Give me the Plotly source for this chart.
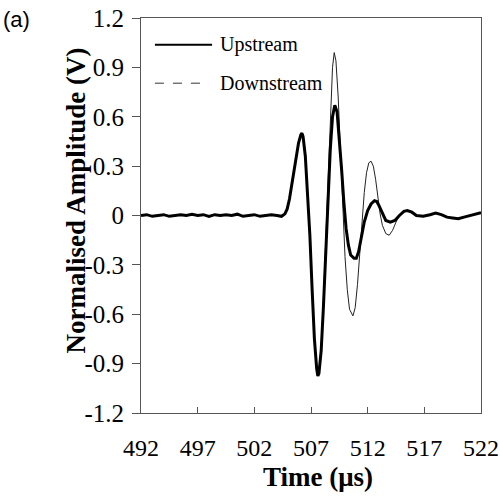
import plotly.graph_objects as go

# Time (µs) and normalised amplitudes
t_up = [492.0, 492.5, 493.0, 493.5, 494.0, 494.5, 495.0, 495.5, 496.0, 496.5,
        497.0, 497.5, 498.0, 498.5, 499.0, 499.5, 500.0, 500.5, 501.0, 501.5,
        502.0, 502.5, 503.0, 503.5, 504.0, 504.4, 504.7, 504.9, 505.1, 505.3,
        505.5, 505.7, 505.9, 506.1, 506.2, 506.3, 506.5, 506.7, 506.9, 507.1,
        507.3, 507.5, 507.6, 507.7, 507.9, 508.1, 508.3, 508.5, 508.7, 508.9,
        509.1, 509.3, 509.5, 509.7, 509.9, 510.1, 510.3, 510.5, 510.8, 511.0,
        511.2, 511.4, 511.7, 512.0, 512.3, 512.6, 512.8, 513.0, 513.3, 513.6,
        514.0, 514.4, 514.8, 515.2, 515.5, 515.9, 516.3, 516.9, 517.5, 518.0,
        518.5, 519.0, 519.5, 520.0, 520.5, 521.0, 521.5, 522.0]
v_up = [0.0, 0.005, -0.005, 0.0, 0.005, -0.005, 0.0, 0.005, 0.0, 0.008,
        0.0, 0.005, -0.005, 0.005, 0.0, 0.005, 0.0, 0.008, -0.005, 0.0,
        0.005, -0.005, 0.0, 0.005, 0.0, -0.005, 0.01, 0.04, 0.10, 0.18,
        0.27, 0.36, 0.44, 0.49, 0.50, 0.48, 0.36, 0.12, -0.12, -0.45,
        -0.75, -0.93, -0.975, -0.96, -0.82, -0.55, -0.20, 0.12, 0.40, 0.60,
        0.67, 0.63, 0.48, 0.28, 0.08, -0.08, -0.18, -0.24, -0.26, -0.26,
        -0.22, -0.14, -0.04, 0.03, 0.07, 0.09, 0.085, 0.06, 0.01, -0.03,
        -0.04, -0.03, 0.0, 0.025, 0.03, 0.02, 0.0, -0.005, 0.005, 0.015,
        0.005, -0.01, -0.015, -0.02, -0.01, 0.0, 0.01, 0.017]

t_down = [492.0, 492.5, 493.0, 493.5, 494.0, 494.5, 495.0, 495.5, 496.0, 496.5,
          497.0, 497.5, 498.0, 498.5, 499.0, 499.5, 500.0, 500.5, 501.0, 501.5,
          502.0, 502.5, 503.0, 503.5, 504.0, 504.4, 504.7, 504.9, 505.1, 505.3,
          505.5, 505.7, 505.9, 506.1, 506.2, 506.3, 506.5, 506.7, 506.9, 507.1,
          507.3, 507.5, 507.6, 507.7, 507.9, 508.1, 508.3, 508.5, 508.7, 508.9,
          509.05, 509.2, 509.4, 509.6, 509.8, 510.0, 510.2, 510.4, 510.7, 510.9,
          511.1, 511.3, 511.5, 511.7, 511.9, 512.1, 512.3, 512.5, 512.7, 512.9,
          513.1, 513.3, 513.6, 513.9, 514.2, 514.5, 514.8, 515.2, 515.5, 515.9,
          516.3, 516.9, 517.5, 518.0, 518.5, 519.0, 519.5, 520.0, 520.5, 521.0,
          521.5, 522.0]
v_down = [0.0, 0.005, -0.005, 0.0, 0.005, -0.005, 0.0, 0.005, 0.0, 0.008,
          0.0, 0.005, -0.005, 0.005, 0.0, 0.005, 0.0, 0.008, -0.005, 0.0,
          0.005, -0.005, 0.0, 0.005, 0.0, -0.005, 0.01, 0.04, 0.10, 0.18,
          0.27, 0.36, 0.44, 0.49, 0.50, 0.48, 0.36, 0.12, -0.12, -0.45,
          -0.75, -0.93, -0.975, -0.96, -0.80, -0.50, -0.12, 0.25, 0.62, 0.90,
          0.99, 0.94, 0.72, 0.40, 0.05, -0.25, -0.45, -0.57, -0.61, -0.56,
          -0.42, -0.22, -0.02, 0.14, 0.26, 0.32, 0.33, 0.30, 0.22, 0.11,
          0.01, -0.06, -0.11, -0.12, -0.09, -0.04, 0.0, 0.025, 0.03, 0.02,
          0.0, -0.005, 0.005, 0.015, 0.005, -0.01, -0.015, -0.02, -0.01, 0.0,
          0.01, 0.017]

x_ticks = [492, 497, 502, 507, 512, 517, 522]
y_ticks = [-1.2, -0.9, -0.6, -0.3, 0, 0.3, 0.6, 0.9, 1.2]
y_tick_labels = ["-1.2", "-0.9", "-0.6", "-0.3", "0", "0.3", "0.6", "0.9", "1.2"]
series_names = ["Upstream", "Downstream"]

SERIF = "Liberation Serif, Times New Roman, serif"

fig = go.Figure()
fig.add_trace(go.Scatter(x=t_down, y=v_down, mode="lines", name=series_names[1],
                         line=dict(color="#222222", width=1), showlegend=False))
fig.add_trace(go.Scatter(x=t_up, y=v_up, mode="lines", name=series_names[0],
                         line=dict(color="black", width=3), showlegend=False))

fig.update_layout(
    width=500, height=499,
    margin=dict(l=141, r=19, t=18, b=86),
    paper_bgcolor="white", plot_bgcolor="white",
    font=dict(family=SERIF, size=24, color="black"),
    xaxis=dict(range=[492, 522], tickvals=x_ticks, ticks="inside", ticklen=6,
               tickcolor="#555555", showline=True, linecolor="#555555",
               mirror=True, showgrid=False, zeroline=False, automargin=False,
               ticklabeloverflow="allow",
               ticklabelstandoff=13, tickfont=dict(size=24, family=SERIF)),
    yaxis=dict(range=[-1.2, 1.2], tickvals=y_ticks, ticktext=y_tick_labels,
               ticks="outside", ticklen=8, tickcolor="#555555", showline=True,
               linecolor="#555555", mirror=True, showgrid=False, zeroline=False,
               automargin=False, ticklabeloverflow="allow",
               ticklabelstandoff=3, tickfont=dict(size=25, family=SERIF)),
)

# Axis titles and panel label
fig.add_annotation(text="<b>Normalised Amplitude (V)</b>", xref="paper", yref="paper",
                   x=-0.19, y=0.539, textangle=-90, showarrow=False,
                   font=dict(size=27, family=SERIF), xanchor="center", yanchor="middle")
fig.add_annotation(text="<b>Time (μs)</b>", xref="paper", yref="paper",
                   x=0.52, y=-0.163, showarrow=False,
                   font=dict(size=27, family=SERIF), xanchor="center", yanchor="middle")
fig.add_annotation(text="(a)", xref="paper", yref="paper", x=-0.365, y=0.997,
                   showarrow=False, font=dict(size=22, family="Liberation Sans, Arial"),
                   xanchor="center", yanchor="middle")

# Legend (drawn manually to match the reference)
fig.add_shape(type="line", xref="paper", yref="paper", x0=0.041, x1=0.209,
              y0=0.932, y1=0.932, line=dict(color="black", width=2))
fig.add_shape(type="line", xref="paper", yref="paper", x0=0.041, x1=0.2,
              y0=0.835, y1=0.835, line=dict(color="#333333", width=1, dash="dash"))
fig.add_annotation(text=series_names[0], xref="paper", yref="paper", x=0.226, y=0.932,
                   showarrow=False, xanchor="left", yanchor="middle",
                   font=dict(size=20, family=SERIF))
fig.add_annotation(text=series_names[1], xref="paper", yref="paper", x=0.226, y=0.835,
                   showarrow=False, xanchor="left", yanchor="middle",
                   font=dict(size=20, family=SERIF))

# remove the default 8px page margin so the figure fills the window exactly
fig.write_html("out.html", config={"displayModeBar": False},
               post_script="document.body.style.margin='0';document.body.style.padding='0';")
